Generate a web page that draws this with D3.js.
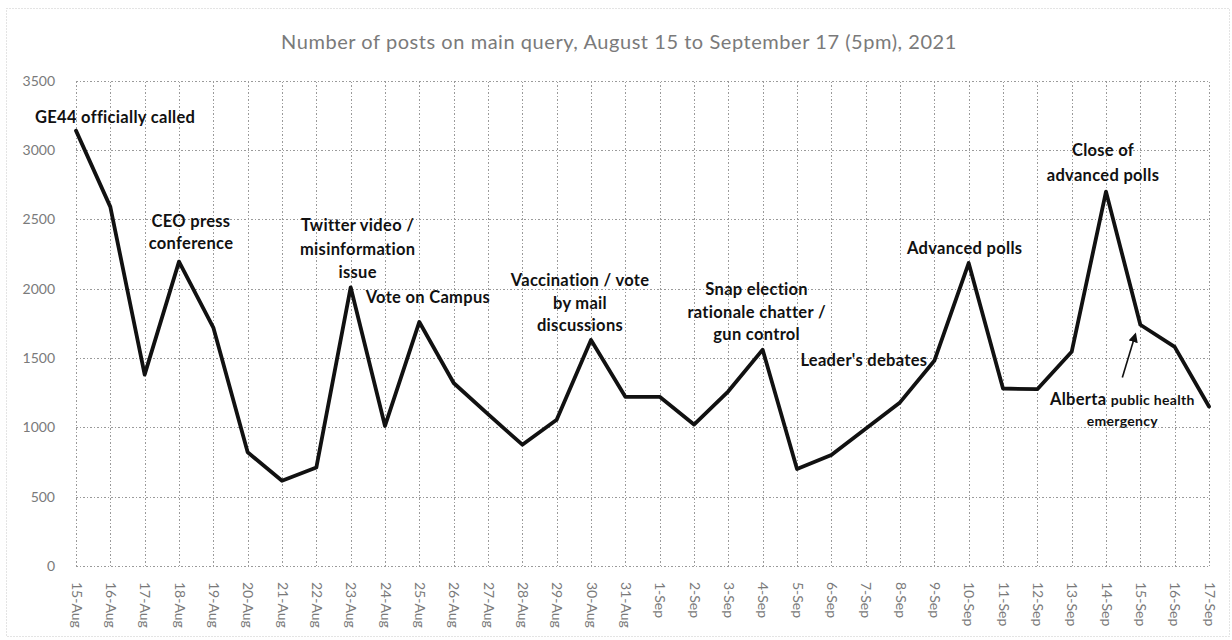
<!DOCTYPE html>
<html>
<head>
<meta charset="utf-8">
<script src="https://cdn.jsdelivr.net/npm/d3@7/dist/d3.min.js"></script>
<style>
  html, body { margin: 0; padding: 0; background: #fff; }
  svg { display: block; }
</style>
</head>
<body>
<svg id="chart" width="1232" height="640"></svg>
<script>
// ---- data ----
const dates = ["15-Aug","16-Aug","17-Aug","18-Aug","19-Aug","20-Aug","21-Aug","22-Aug","23-Aug","24-Aug",
  "25-Aug","26-Aug","27-Aug","28-Aug","29-Aug","30-Aug","31-Aug",
  "1-Sep","2-Sep","3-Sep","4-Sep","5-Sep","6-Sep","7-Sep","8-Sep","9-Sep","10-Sep",
  "11-Sep","12-Sep","13-Sep","14-Sep","15-Sep","16-Sep","17-Sep"];
const posts = [3140,2590,1380,2195,1720,820,615,710,2010,1010,
  1760,1320,1095,875,1055,1630,1220,
  1220,1020,1260,1560,700,800,990,1180,1480,2185,
  1280,1275,1545,2700,1740,1580,1150];
const yTicks = [0,500,1000,1500,2000,2500,3000,3500];
const title = "Number of posts on main query, August 15 to September 17 (5pm), 2021";

// annotation texts (anchored to a category and a value level)
const notes = [
  {date:"15-Aug", lines:["GE44 officially called"], levels:[3238]},
  {date:"18-Aug", lines:["CEO press","conference"], levels:[2490,2327]},
  {date:"23-Aug", lines:["Twitter video /","misinformation","issue"], levels:[2459,2284,2122]},
  {date:"23-Aug", lines:["Vote on Campus"], levels:[1942]},
  {date:"30-Aug", lines:["Vaccination / vote","by mail","discussions"], levels:[2063,1897,1738]},
  {date:"4-Sep", lines:["Snap election","rationale chatter /","gun control"], levels:[1995,1830,1673]},
  {date:"9-Sep", lines:["Leader's debates"], levels:[1486]},
  {date:"10-Sep", lines:["Advanced polls"], levels:[2295]},
  {date:"14-Sep", lines:["Close of","advanced polls"], levels:[3000,2820]},
  {date:"15-Sep", lines:["Alberta public health","emergency"], levels:[1202,1048]}
];

(function draw() {
  // ---- layout / style ----
  const pL = 76, pR = 1209, pT = 80.7, pB = 566;
  const noteStyle = [
    {dx:-41, anchor:"start"},
    {dx:12, anchor:"middle"},
    {dx:7, anchor:"middle"},
    {dx:15, anchor:"start"},
    {dx:-11, anchor:"middle"},
    {dx:-6, anchor:"middle"},
    {dx:-7, anchor:"end"},
    {dx:-4, anchor:"middle"},
    {dx:-3, anchor:"middle"},
    {dx:-18, anchor:"middle"}
  ];
  const FONT = "Lato, 'Open Sans', 'DejaVu Sans', sans-serif";
  const gridColor = "#9a9a9a";
  const labelColor = "#7a7a7a";

  const svg = d3.select("#chart");

  svg.append("rect")
    .attr("x", 6.5).attr("y", 8.5).attr("width", 1223).attr("height", 628)
    .attr("fill", "none").attr("stroke", "#c8c8c8").attr("stroke-width", 1)
    .attr("stroke-dasharray", "1,2");

  const x = d3.scalePoint().domain(dates).range([pL, pR]);
  const y = d3.scaleLinear().domain([0, 3500]).range([pB, pT]);

  svg.append("text")
    .attr("x", 619).attr("y", 49)
    .attr("text-anchor", "middle")
    .attr("font-family", FONT).attr("font-size", 20)
    .attr("letter-spacing", 0.55)
    .attr("fill", "#7a7a7a")
    .text(title);

  const yAxis = svg.append("g")
    .attr("transform", `translate(${pL},0)`)
    .call(d3.axisLeft(y).tickValues(yTicks).tickSize(-(pR - pL)).tickPadding(21).tickFormat(d3.format("d")));
  yAxis.select(".domain").remove();
  yAxis.selectAll("line").attr("stroke", gridColor).attr("stroke-dasharray", "1.5,2").attr("shape-rendering", "crispEdges");
  yAxis.selectAll("text").attr("font-family", FONT).attr("font-size", 14).attr("fill", labelColor);

  const xAxis = svg.append("g")
    .attr("transform", `translate(0,${pB})`)
    .call(d3.axisBottom(x).tickSize(-(pB - pT)).tickPadding(0));
  xAxis.select(".domain").remove();
  xAxis.selectAll("line").attr("stroke", gridColor).attr("stroke-dasharray", "1.5,2").attr("shape-rendering", "crispEdges");
  xAxis.selectAll("text")
    .attr("font-family", FONT).attr("font-size", 14).attr("fill", labelColor)
    .attr("text-anchor", "start")
    .attr("transform", "translate(0,16) rotate(90)")
    .attr("x", 0).attr("y", 0).attr("dy", "0.35em");

  const line = d3.line().x((d, i) => x(dates[i])).y(d => y(d));
  svg.append("path")
    .datum(posts)
    .attr("d", line)
    .attr("fill", "none")
    .attr("stroke", "#111")
    .attr("stroke-width", 3.8)
    .attr("stroke-linejoin", "round")
    .attr("stroke-linecap", "round");

  notes.forEach((n, k) => {
    const st = noteStyle[k];
    n.lines.forEach((t, j) => {
      const el = svg.append("text")
        .attr("x", x(n.date) + st.dx)
        .attr("y", y(n.levels[j]))
        .attr("dy", "0.35em")
        .attr("text-anchor", st.anchor)
        .attr("font-family", FONT).attr("font-weight", "bold")
        .attr("font-size", 16.5).attr("letter-spacing", 0.3).attr("fill", "#111");
      if (t.startsWith("Alberta ")) {
        el.append("tspan").text("Alberta ");
        el.append("tspan").attr("font-size", 14).text(t.slice(8));
      } else if (t === "emergency") {
        el.attr("font-size", 14).text(t);
      } else {
        el.text(t);
      }
    });
  });

  const defs = svg.append("defs");
  defs.append("marker").attr("id", "arr").attr("viewBox", "0 0 10 10")
    .attr("refX", 8).attr("refY", 5).attr("markerWidth", 6).attr("markerHeight", 6)
    .attr("orient", "auto")
    .append("path").attr("d", "M0,0 L10,5 L0,10 z").attr("fill", "#111");
  svg.append("line")
    .attr("x1", x("15-Sep") - 18).attr("y1", y(1360))
    .attr("x2", x("15-Sep") - 5).attr("y2", y(1670))
    .attr("stroke", "#111").attr("stroke-width", 1.6)
    .attr("marker-end", "url(#arr)");
})();
</script>
</body>
</html>
